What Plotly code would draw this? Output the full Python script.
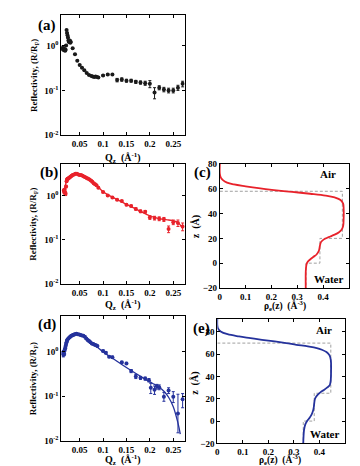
import plotly.graph_objects as go

# ---------------- data ----------------
# (a) black reflectivity data
q_a = [0.012, 0.013, 0.014, 0.015, 0.016, 0.017, 0.018, 0.019, 0.020, 0.021,
       0.022, 0.023, 0.024, 0.025, 0.026, 0.027, 0.028, 0.029, 0.030, 0.031,
       0.035, 0.040, 0.045, 0.050, 0.055, 0.060, 0.065, 0.070, 0.075, 0.078,
       0.081, 0.084, 0.087, 0.090, 0.100, 0.110, 0.120, 0.130, 0.140, 0.150,
       0.160, 0.170, 0.180, 0.190, 0.200, 0.210, 0.220, 0.230, 0.240, 0.250,
       0.260, 0.270]
R_a = [0.90, 0.85, 0.82, 0.88, 0.80, 0.78, 0.84, 0.76, 0.80, 1.0,
       2.2, 1.9, 1.7, 1.5, 1.3, 1.2, 1.25, 1.3, 1.15, 1.2,
       0.87, 0.64, 0.46, 0.37, 0.32, 0.28, 0.245, 0.22, 0.21, 0.205,
       0.20, 0.205, 0.20, 0.195, 0.215, 0.225, 0.225, 0.17, 0.175, 0.165,
       0.165, 0.155, 0.15, 0.145, 0.14, 0.09, 0.115, 0.105, 0.10, 0.10,
       0.115, 0.14]
err_a = [0.02, 0.02, 0.02, 0.02, 0.02, 0.02, 0.02, 0.02, 0.02, 0.03,
         0.06, 0.05, 0.04, 0.04, 0.03, 0.03, 0.03, 0.03, 0.03, 0.03,
         0.02, 0.015, 0.01, 0.008, 0.007, 0.006, 0.006, 0.005, 0.005, 0.005,
         0.005, 0.005, 0.005, 0.005, 0.008, 0.009, 0.009, 0.015, 0.015, 0.012,
         0.012, 0.012, 0.012, 0.015, 0.025, 0.025, 0.012, 0.012, 0.012, 0.012,
         0.015, 0.02]

# (b) red reflectivity data + fit
q_b = [0.016, 0.017, 0.018, 0.019, 0.020, 0.021, 0.022, 0.023, 0.024, 0.025,
       0.027, 0.029, 0.031, 0.033, 0.035, 0.038, 0.041, 0.044, 0.047, 0.050,
       0.053, 0.056, 0.059, 0.062, 0.065, 0.068, 0.071, 0.074, 0.077, 0.080,
       0.083, 0.086, 0.090, 0.100, 0.110, 0.120, 0.130, 0.140, 0.150, 0.160,
       0.170, 0.180, 0.190, 0.200, 0.210, 0.220, 0.230, 0.240, 0.250, 0.260,
       0.270]
R_b = [1.3, 1.2, 1.35, 1.15, 1.1, 1.6, 2.1, 2.3, 2.4, 2.4,
       2.5, 2.6, 2.7, 2.8, 2.9, 3.0, 3.1, 3.1, 3.0, 2.9,
       2.9, 2.8, 2.7, 2.6, 2.5, 2.4, 2.3, 2.2, 2.05, 1.9,
       1.8, 1.7, 1.5, 1.2, 1.0, 0.9, 0.8, 0.75, 0.62, 0.58,
       0.50, 0.44, 0.43, 0.32, 0.31, 0.30, 0.29, 0.175, 0.25, 0.24,
       0.20]
err_b = [0.1, 0.1, 0.1, 0.1, 0.1, 0.1, 0.12, 0.12, 0.12, 0.1,
         0.1, 0.1, 0.1, 0.1, 0.1, 0.1, 0.1, 0.1, 0.1, 0.1,
         0.1, 0.1, 0.1, 0.1, 0.1, 0.1, 0.1, 0.1, 0.08, 0.08,
         0.07, 0.07, 0.06, 0.05, 0.04, 0.04, 0.03, 0.03, 0.03, 0.03,
         0.03, 0.03, 0.03, 0.03, 0.03, 0.03, 0.03, 0.03, 0.03, 0.04,
         0.04]
qf_b = [0.016, 0.020, 0.025, 0.030, 0.035, 0.040, 0.045, 0.050, 0.060, 0.070,
        0.080, 0.090, 0.100, 0.120, 0.140, 0.160, 0.180, 0.200, 0.220, 0.240,
        0.250, 0.260, 0.270]
Rf_b = [1.1, 1.8, 2.4, 2.7, 2.9, 3.0, 3.05, 3.0, 2.75, 2.35,
        1.95, 1.55, 1.22, 0.92, 0.72, 0.56, 0.44, 0.35, 0.30, 0.28,
        0.27, 0.245, 0.18]

# (d) blue reflectivity data + fit
q_d = [0.014, 0.015, 0.016, 0.017, 0.018, 0.019, 0.020, 0.021, 0.022, 0.023,
       0.024, 0.026, 0.028, 0.030, 0.032, 0.034, 0.036, 0.038, 0.040, 0.043,
       0.046, 0.049, 0.052, 0.055, 0.058, 0.061, 0.064, 0.067, 0.070, 0.073,
       0.076, 0.079, 0.082, 0.085, 0.088, 0.100, 0.106, 0.113, 0.120, 0.140,
       0.150, 0.160, 0.170, 0.180, 0.190, 0.198, 0.202, 0.210, 0.215, 0.220,
       0.230, 0.240, 0.250, 0.260, 0.270]
R_d = [0.95, 0.85, 1.0, 0.9, 1.1, 1.2, 1.35, 1.5, 1.65, 1.8,
       1.9, 2.0, 2.1, 2.2, 2.3, 2.35, 2.4, 2.45, 2.5, 2.55,
       2.5, 2.45, 2.4, 2.35, 2.3, 2.2, 2.0, 1.85, 1.75, 1.65,
       1.55, 1.5, 1.45, 1.4, 1.35, 1.05, 0.95, 0.78, 0.76, 0.58,
       0.55, 0.37, 0.28, 0.26, 0.25, 0.23, 0.155, 0.14, 0.165, 0.16,
       0.097, 0.135, 0.097, 0.041, 0.085]
errp_d = [0.08, 0.08, 0.08, 0.08, 0.08, 0.08, 0.08, 0.08, 0.08, 0.08,
          0.08, 0.08, 0.08, 0.08, 0.08, 0.08, 0.08, 0.08, 0.08, 0.08,
          0.08, 0.08, 0.08, 0.08, 0.08, 0.08, 0.08, 0.07, 0.07, 0.07,
          0.06, 0.06, 0.06, 0.06, 0.06, 0.05, 0.05, 0.04, 0.04, 0.03,
          0.03, 0.03, 0.03, 0.02, 0.02, 0.02, 0.04, 0.03, 0.02, 0.02,
          0.025, 0.02, 0.03, 0.07, 0.03]
errm_d = [0.08, 0.08, 0.08, 0.08, 0.08, 0.08, 0.08, 0.08, 0.08, 0.08,
          0.08, 0.08, 0.08, 0.08, 0.08, 0.08, 0.08, 0.08, 0.08, 0.08,
          0.08, 0.08, 0.08, 0.08, 0.08, 0.08, 0.08, 0.07, 0.07, 0.07,
          0.06, 0.06, 0.06, 0.06, 0.06, 0.05, 0.05, 0.04, 0.04, 0.03,
          0.03, 0.03, 0.03, 0.02, 0.02, 0.02, 0.04, 0.03, 0.02, 0.02,
          0.02, 0.02, 0.025, 0.026, 0.03]
qf_d = [0.014, 0.018, 0.022, 0.026, 0.030, 0.035, 0.040, 0.045, 0.050, 0.060,
        0.070, 0.080, 0.090, 0.100, 0.120, 0.140, 0.160, 0.180, 0.200, 0.210,
        0.220, 0.230, 0.240, 0.250, 0.260, 0.265]
Rf_d = [0.85, 1.15, 1.6, 2.0, 2.3, 2.5, 2.6, 2.6, 2.55, 2.25,
        1.85, 1.5, 1.22, 1.0, 0.72, 0.52, 0.38, 0.28, 0.21, 0.185,
        0.16, 0.13, 0.095, 0.058, 0.025, 0.014]

# (c) red electron density profile + slab model
z_c = [80, 72, 69, 67, 65, 63.5, 62, 60.5, 59, 57.5,
       56, 54.5, 53, 51, 48, 44, 36, 30, 27, 25,
       23, 21, 19, 17, 14, 10, 7, 5, 3, 1,
       -1, -4, -8, -20]
rho_c = [0.0, 0.0, 0.004, 0.012, 0.028, 0.055, 0.10, 0.15, 0.21, 0.28,
         0.35, 0.41, 0.445, 0.468, 0.478, 0.48, 0.48, 0.478, 0.472, 0.462,
         0.445, 0.422, 0.402, 0.392, 0.388, 0.384, 0.375, 0.362, 0.35, 0.34,
         0.336, 0.334, 0.333, 0.333]
slab_z_c = [58, 58, 20, 20, 0, 0, -20]
slab_rho_c = [0.0, 0.475, 0.475, 0.388, 0.388, 0.334, 0.334]

# (e) blue electron density profile + slab model
z_e = [92, 86, 83, 80.5, 78, 76, 74.5, 73, 71.5, 70,
       68.5, 67, 65.5, 64, 62, 59, 55, 45, 37, 34,
       32, 30, 28, 26, 24, 22, 20, 16, 12, 9,
       6, 3, 0, -3, -8, -14, -20]
rho_e = [0.0, 0.0, 0.003, 0.013, 0.04, 0.085, 0.13, 0.175, 0.225, 0.27,
         0.31, 0.355, 0.39, 0.41, 0.428, 0.44, 0.445, 0.446, 0.445, 0.443,
         0.44, 0.43, 0.418, 0.405, 0.395, 0.388, 0.383, 0.38, 0.378, 0.375,
         0.37, 0.362, 0.352, 0.345, 0.34, 0.338, 0.337]
slab_z_e = [70, 70, 25, 25, 0, 0, -20]
slab_rho_e = [0.0, 0.445, 0.445, 0.38, 0.38, 0.337, 0.337]

refl_xticks = [0.05, 0.1, 0.15, 0.2, 0.25]
refl_xticktext = ["0.05", "0.1", "0.15", "0.2", "0.25"]
refl_yticks = [0.01, 0.1, 1]
refl_yticktext = ["10<sup>-2</sup>", "10<sup>-1</sup>", "10<sup>0</sup>"]
prof_xticks = [0, 0.1, 0.2, 0.3, 0.4]
prof_xticktext = ["0", "0.1", "0.2", "0.3", "0.4"]
prof_yticks = [-20, 0, 20, 40, 60, 80]

# ---------------- style ----------------
W, H = 360, 466
FONT = "Liberation Serif"
RED = "#e8222b"
BLUE = "#25329c"
BLACK = "#1a1a1a"
GRAY = "#a0a0a0"


def X(px):
    return px / W


def Y(py):
    return 1 - py / H


tickfont = dict(family=FONT, size=9, color="black", weight="bold")

fig = go.Figure()

# (a)
fig.add_trace(go.Scatter(x=q_a, y=R_a, mode="markers",
                         marker=dict(color=BLACK, size=4),
                         error_y=dict(type="data", array=err_a, color=BLACK,
                                      thickness=1, width=1.5),
                         xaxis="x", yaxis="y", showlegend=False))
# (b)
fig.add_trace(go.Scatter(x=qf_b, y=Rf_b, mode="lines", line=dict(color=RED, width=1.3, shape="spline"),
                         xaxis="x2", yaxis="y2", showlegend=False))
fig.add_trace(go.Scatter(x=q_b, y=R_b, mode="markers",
                         marker=dict(color=RED, size=4),
                         error_y=dict(type="data", array=err_b, color=RED,
                                      thickness=1, width=1.5),
                         xaxis="x2", yaxis="y2", showlegend=False))
# (d)
fig.add_trace(go.Scatter(x=qf_d, y=Rf_d, mode="lines", line=dict(color=BLUE, width=1.3, shape="spline"),
                         xaxis="x3", yaxis="y3", showlegend=False))
fig.add_trace(go.Scatter(x=q_d, y=R_d, mode="markers",
                         marker=dict(color=BLUE, size=4),
                         error_y=dict(type="data", array=errp_d, arrayminus=errm_d,
                                      symmetric=False, color=BLUE,
                                      thickness=1, width=1.5),
                         xaxis="x3", yaxis="y3", showlegend=False))
# (c)
fig.add_trace(go.Scatter(x=slab_rho_c, y=slab_z_c, mode="lines",
                         line=dict(color=GRAY, width=1, dash="3px,2px"),
                         xaxis="x4", yaxis="y4", showlegend=False))
fig.add_trace(go.Scatter(x=rho_c, y=z_c, mode="lines",
                         line=dict(color=RED, width=1.8, shape="spline"),
                         xaxis="x4", yaxis="y4", showlegend=False))
# (e)
fig.add_trace(go.Scatter(x=slab_rho_e, y=slab_z_e, mode="lines",
                         line=dict(color=GRAY, width=1, dash="3px,2px"),
                         xaxis="x5", yaxis="y5", showlegend=False))
fig.add_trace(go.Scatter(x=rho_e, y=z_e, mode="lines",
                         line=dict(color=BLUE, width=1.8, shape="spline"),
                         xaxis="x5", yaxis="y5", showlegend=False))

common = dict(showline=True, linecolor="black", linewidth=1.2, mirror="ticks",
              ticks="inside", ticklen=3, tickcolor="black", tickwidth=1,
              showgrid=False, zeroline=False, tickfont=tickfont)


def refl_axes(xd, yd, yr, anchor_x, anchor_y):
    xa = dict(common, domain=xd, range=[0.011, 0.2745], tickvals=refl_xticks,
              ticktext=refl_xticktext, anchor=anchor_y)
    ya = dict(common, domain=yd, type="log", range=yr, tickvals=refl_yticks,
              ticktext=refl_yticktext, anchor=anchor_x)
    return xa, ya


xa1, ya1 = refl_axes([X(51.7), X(175.7)], [Y(125), Y(2)], [-2, 0.68], "x", "y")
xa2, ya2 = refl_axes([X(51.7), X(175.7)], [Y(277), Y(154)], [-2, 0.72], "x2", "y2")
xa3, ya3 = refl_axes([X(51.7), X(175.7)], [Y(437), Y(310)], [-2, 0.8], "x3", "y3")

xa4 = dict(common, domain=[X(211), X(340.7)], range=[0, 0.5], tickvals=prof_xticks,
           ticktext=prof_xticktext, anchor="y4")
ya4 = dict(common, domain=[Y(281), Y(154.3)], range=[-20, 80], tickvals=prof_yticks, anchor="x4")
xa5 = dict(common, domain=[X(208.5), X(336.7)], range=[0, 0.5], tickvals=prof_xticks,
           ticktext=prof_xticktext, anchor="y5")
ya5 = dict(common, domain=[Y(439.8), Y(312.3)], range=[-20, 92], tickvals=prof_yticks, anchor="x5")

ann = []
lblfont = dict(family=FONT, size=15, color="black", weight="bold")
for t, px, py in [("(a)", 37, 12.5), ("(b)", 39, 162.5), ("(d)", 37, 318),
                  ("(c)", 194, 163), ("(e)", 193, 322)]:
    ann.append(dict(text=t, x=X(px), y=Y(py), xref="paper", yref="paper",
                    showarrow=False, font=lblfont, xanchor="center", yanchor="middle"))

titlefont = dict(family=FONT, size=9, color="black", weight="bold")
for py in [63.5, 215.5, 373.5]:
    ann.append(dict(text="Reflectivity, (R/R<sub>F</sub>)", x=X(24), y=Y(py),
                    xref="paper", yref="paper", showarrow=False, textangle=-90,
                    font=titlefont, xanchor="center", yanchor="middle"))
for py in [148, 298, 457]:
    ann.append(dict(text="Q<sub>z</sub>  (Å<sup>-1</sup>)", x=X(113.7), y=Y(py),
                    xref="paper", yref="paper", showarrow=False,
                    font=dict(titlefont, size=10), xanchor="center", yanchor="middle"))
for px, py in [(187, 218), (186, 378)]:
    ann.append(dict(text="z  (Å)", x=X(px), y=Y(py), xref="paper", yref="paper",
                    showarrow=False, textangle=-90, font=dict(titlefont, size=10),
                    xanchor="center", yanchor="middle"))
for px, py in [(277, 298.5), (272, 456.5)]:
    ann.append(dict(text="ρ<sub>e</sub>(z)  (Å<sup>-3</sup>)", x=X(px), y=Y(py),
                    xref="paper", yref="paper", showarrow=False,
                    font=dict(titlefont, size=9.5), xanchor="center", yanchor="middle"))

txtfont = dict(family=FONT, size=11, color="black", weight="bold")
ann.append(dict(text="Air", x=0.42, y=72, xref="x4", yref="y4", showarrow=False, font=txtfont))
ann.append(dict(text="Water", x=0.42, y=-12.5, xref="x4", yref="y4", showarrow=False, font=txtfont))
ann.append(dict(text="Air", x=0.42, y=82, xref="x5", yref="y5", showarrow=False, font=txtfont))
ann.append(dict(text="Water", x=0.42, y=-12, xref="x5", yref="y5", showarrow=False, font=txtfont))

fig.update_layout(
    width=W, height=H, margin=dict(l=0, r=0, t=0, b=0),
    paper_bgcolor="white", plot_bgcolor="white",
    xaxis=xa1, yaxis=ya1, xaxis2=xa2, yaxis2=ya2, xaxis3=xa3, yaxis3=ya3,
    xaxis4=xa4, yaxis4=ya4, xaxis5=xa5, yaxis5=ya5,
    annotations=ann, showlegend=False,
    font=dict(family=FONT, color="black"),
)

fig.write_html("out.html")
